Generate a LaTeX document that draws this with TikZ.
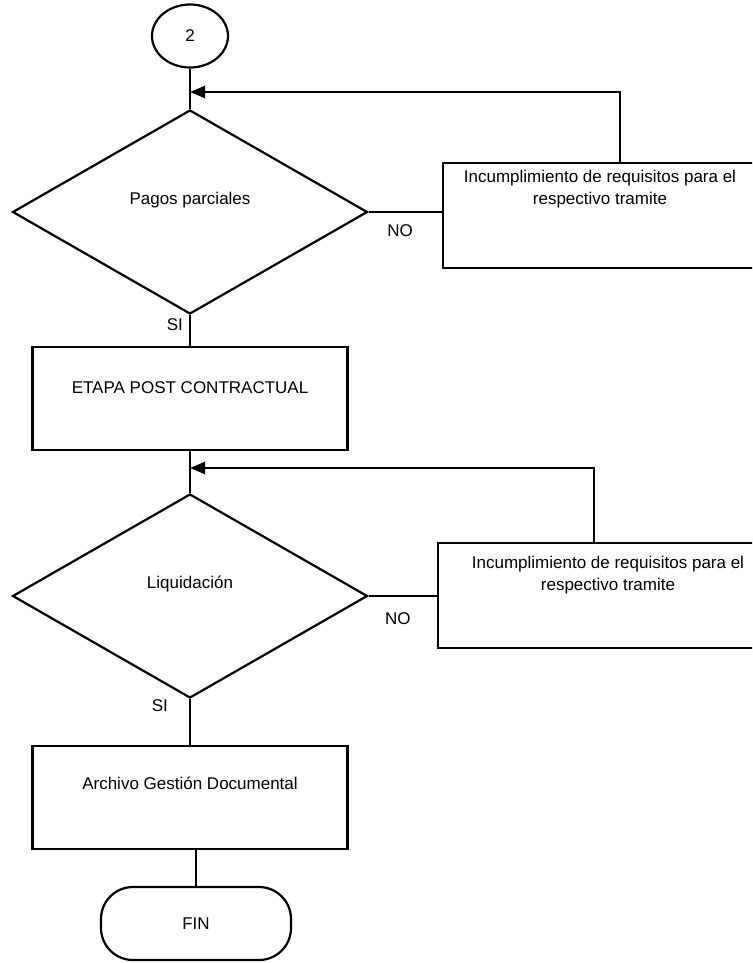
\documentclass[tikz,border=0pt]{standalone}
\usepackage{fontspec}
\setmainfont{Liberation Sans}
\usetikzlibrary{shapes.geometric}
\usetikzlibrary{arrows.meta}
\usetikzlibrary{positioning}

\begin{document}
\begin{tikzpicture}[x=1pt,y=-1pt,
        font=\fontsize{17}{22}\selectfont,
        caja/.style={draw,line width=2.2pt,minimum width=315pt,minimum height=103pt},
        rombo/.style={draw,diamond,line width=2.2pt,minimum width=355pt,minimum height=204pt},
        aviso/.style={draw,line width=2.2pt,minimum height=105pt},
        linea/.style={line width=1.4pt},
        flecha/.style={line width=2pt,-{Triangle[length=15pt,width=12pt]}}]
        \useasboundingbox (0,0) rectangle (752,963);
        \clip (0,0) rectangle (752,963);

        \node[draw,ellipse,line width=2.2pt,minimum width=76pt,minimum height=63pt] (c2) at (190,36) {2};
        \node[rombo,label={[yshift=12pt]center:Pagos parciales}] (d1) at (190,212) {};
        \node[aviso,minimum width=314pt,
            label={[align=center,yshift=26pt]center:Incumplimiento de requisitos para el\\respectivo tramite}]
            (r1) at (600,215.5) {};
        \node[caja,label={[yshift=11pt]center:ETAPA POST CONTRACTUAL}] (e1) at (190,398.5) {};
        \node[rombo,label={[yshift=12pt]center:Liquidación}] (d2) at (190,596) {};
        \node[aviso,minimum width=340pt,
            label={[align=center,yshift=20pt]center:Incumplimiento de requisitos para el\\respectivo tramite}]
            (r2) at (608,595.5) {};
        \node[caja,label={[yshift=14pt]center:Archivo Gestión Documental}] (a1) at (190,797.5) {};
        \node[draw,line width=2.2pt,rounded corners=32pt,minimum width=190pt,minimum height=73pt] (fin) at (196,923.5) {FIN};

        \coordinate (k1) at (620,92);
        \coordinate (k2) at (594,468);

        \draw[linea] (c2) -- (d1);
        \draw[linea] (d1.east) -- (d1.east -| r1.west) node[pos=0.43,below=9pt] {NO};
        \draw[flecha] (r1.north -| k1) -- (k1) -- (k1 -| c2.south);
        \draw[linea] (d1) -- (e1) node[pos=0.3,left=3pt] {SI};

        \draw[linea] (e1) -- (d2);
        \draw[linea] (d2.east) -- (d2.east -| r2.west) node[pos=0.43,below=13pt] {NO};
        \draw[flecha] (r2.north -| k2) -- (k2) -- (k2 -| e1.south);
        \draw[linea] (d2) -- (a1) node[pos=0.15,left=18pt] {SI};

        \draw[linea] (a1.south -| fin.north) -- (fin.north);
\end{tikzpicture}
\end{document}
